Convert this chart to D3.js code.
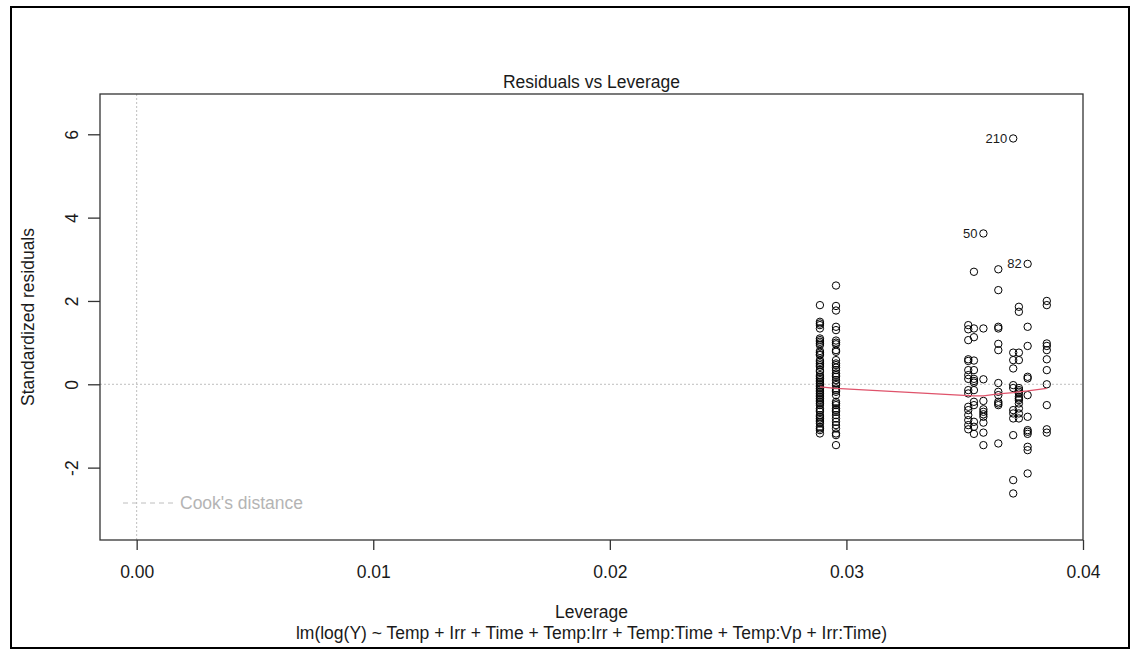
<!DOCTYPE html>
<html>
<head>
<meta charset="utf-8">
<script src="https://cdn.jsdelivr.net/npm/d3@7"></script>
<style>
  html, body { margin: 0; padding: 0; background: #fff; }
  svg { display: block; }
  text { font-family: "Liberation Sans", Arial, sans-serif; }
</style>
</head>
<body>
<svg id="chart" width="1132" height="650"></svg>
<script>
// Leverage value of each observation column
const leverageColumns = [0.02888, 0.02956, 0.03515, 0.03539, 0.03579, 0.03642, 0.03705, 0.03729, 0.03766, 0.03847];

// Standardized residuals per leverage column
const residualsL1 = [1.90, 1.50, 1.46, 1.42, 1.34, 1.10, 1.06, 1.02, 0.98, 0.94, 0.80, 0.76, 0.72, 0.70, 0.58, 0.54, 0.50, 0.46, 0.42, 0.34, 0.30, 0.22, 0.18, 0.14, 0.10, 0.06, 0.02, -0.02, -0.06, -0.10, -0.14, -0.18, -0.22, -0.26, -0.30, -0.34, -0.38, -0.42, -0.46, -0.50, -0.58, -0.62, -0.66, -0.74, -0.78, -0.82, -0.86, -0.90, -0.94, -1.02, -1.06, -1.10, -1.18];
const residualsL2 = [2.37, 1.88, 1.77, 1.38, 1.30, 1.05, 1.00, 0.96, 0.82, 0.78, 0.58, 0.50, 0.46, 0.40, 0.34, 0.26, 0.22, 0.18, 0.10, 0.02, -0.02, -0.10, -0.14, -0.18, -0.26, -0.42, -0.46, -0.50, -0.58, -0.62, -0.66, -0.74, -0.82, -0.90, -0.98, -1.06, -1.18, -1.22, -1.46];
const residualsR1 = [1.42, 1.32, 1.06, 0.60, 0.56, 0.34, 0.22, 0.13, -0.14, -0.22, -0.54, -0.62, -0.74, -0.86, -0.98, -1.08];
const residualsR2 = [2.70, 1.34, 1.13, 0.57, 0.34, 0.13, 0.08, 0.04, -0.14, -0.42, -0.50, -0.90, -1.02, -1.19];
const residualsR3 = [1.34, 0.12, -0.40, -0.60, -0.66, -0.72, -0.78, -0.92, -1.16, -1.46];
const residualsR4 = [2.76, 2.26, 1.38, 1.34, 0.97, 0.82, 0.03, -0.18, -0.26, -0.42, -0.46, -0.50, -1.42];
const residualsR5 = [0.76, 0.58, 0.38, -0.02, -0.09, -0.62, -0.70, -0.82, -1.22, -2.30, -2.62];
const residualsR6 = [1.86, 1.74, 0.76, 0.58, -0.09, -0.14, -0.18, -0.22, -0.30, -0.34, -0.38, -0.46, -0.58, -0.70, -0.82];
const residualsR7 = [1.38, 0.92, 0.18, 0.14, -0.26, -0.78, -1.10, -1.14, -1.19, -1.50, -1.58, -2.14];
const residualsR8 = [2.00, 1.90, 0.98, 0.92, 0.82, 0.60, 0.34, 0.00, -0.50, -1.08, -1.16];

// Observations flagged with their row number
const labelledIds = ["210", "50", "82"];
const labelledLeverage = [0.03705, 0.03579, 0.03766];
const labelledResiduals = [5.90, 3.62, 2.89];

// Smoothed trend evaluated at each leverage column
const smoothFit = [-0.06, -0.10, -0.27, -0.28, -0.28, -0.23, -0.20, -0.18, -0.16, -0.10];

// Axes
const xTicks = [0, 0.01, 0.02, 0.03, 0.04];
const xTickLabels = ["0.00", "0.01", "0.02", "0.03", "0.04"];
const yTicks = [-2, 0, 2, 4, 6];
const yTickLabels = ["-2", "0", "2", "4", "6"];
const xDomain = [-0.00155, 0.04];
const yDomain = [-3.737, 6.967];

const titleText = "Residuals vs Leverage";
const xLabelText = "Leverage";
const yLabelText = "Standardized residuals";
const subCaption = "lm(log(Y) ~ Temp + Irr + Time + Temp:Irr + Temp:Time + Temp:Vp + Irr:Time)";
const legendText = "Cook's distance";

const residualColumns = [residualsL1, residualsL2, residualsR1, residualsR2, residualsR3,
                         residualsR4, residualsR5, residualsR6, residualsR7, residualsR8];
const points = [];
residualColumns.forEach((col, i) => col.forEach(r => points.push({ lev: leverageColumns[i], r })));
labelledIds.forEach((id, i) => points.push({ lev: labelledLeverage[i], r: labelledResiduals[i], id }));

const svg = d3.select("#chart");
const plot = { left: 100, right: 1083, top: 94, bottom: 540 };
const fontSize = 17.5;
const textColor = "#1a1a1a";
const refGray = "#bebebe";

svg.append("rect").attr("width", 1132).attr("height", 650).attr("fill", "#fff");

// Outer frame
svg.append("rect")
  .attr("x", 11).attr("y", 7).attr("width", 1118).attr("height", 641)
  .attr("fill", "none").attr("stroke", "#000").attr("stroke-width", 2);

const x = d3.scaleLinear().domain(xDomain).range([plot.left, plot.right]);
const y = d3.scaleLinear().domain(yDomain).range([plot.bottom, plot.top]);

// Reference lines at zero
svg.append("line")
  .attr("x1", x(0)).attr("x2", x(0)).attr("y1", plot.top).attr("y2", plot.bottom)
  .attr("stroke", refGray).attr("stroke-width", 1).attr("stroke-dasharray", "2,2");
svg.append("line")
  .attr("x1", plot.left).attr("x2", plot.right).attr("y1", y(0)).attr("y2", y(0))
  .attr("stroke", refGray).attr("stroke-width", 1).attr("stroke-dasharray", "2,2");

// Points
svg.append("g").selectAll("circle").data(points).join("circle")
  .attr("cx", d => x(d.lev)).attr("cy", d => y(d.r)).attr("r", 3.7)
  .attr("fill", "none").attr("stroke", "#000").attr("stroke-width", 1);

// Smoothed line
const line = d3.line().x((d, i) => x(leverageColumns[i])).y(d => y(d));
svg.append("path").datum(smoothFit).attr("d", line)
  .attr("fill", "none").attr("stroke", "#DF536B").attr("stroke-width", 1.2);

// Point labels
svg.append("g").selectAll("text").data(points.filter(p => p.id)).join("text")
  .attr("x", d => x(d.lev) - 6).attr("y", d => y(d.r)).attr("dy", "0.35em")
  .attr("text-anchor", "end").attr("font-size", 13).attr("fill", textColor)
  .text(d => d.id);

// Plot box
svg.append("rect")
  .attr("x", plot.left).attr("y", plot.top)
  .attr("width", plot.right - plot.left).attr("height", plot.bottom - plot.top)
  .attr("fill", "none").attr("stroke", "#333").attr("stroke-width", 1.3);

// X axis
const xAxis = d3.axisBottom(x).tickValues(xTicks).tickSize(10).tickPadding(0)
  .tickFormat((d, i) => xTickLabels[i]);
const gx = svg.append("g").attr("transform", `translate(0,${plot.bottom})`).call(xAxis);
gx.select(".domain").remove();
gx.selectAll(".tick line").attr("stroke", "#333").attr("stroke-width", 1.3);
gx.selectAll(".tick text").attr("y", 38).attr("dy", null)
  .attr("font-size", fontSize).attr("font-family", "Liberation Sans, Arial, sans-serif")
  .attr("fill", textColor);

// Y axis with rotated labels
const yAxis = d3.axisLeft(y).tickValues(yTicks).tickSize(12).tickPadding(0)
  .tickFormat((d, i) => yTickLabels[i]);
const gy = svg.append("g").attr("transform", `translate(${plot.left},0)`).call(yAxis);
gy.select(".domain").remove();
gy.selectAll(".tick line").attr("stroke", "#333").attr("stroke-width", 1.3);
gy.selectAll(".tick text")
  .attr("x", null).attr("dy", null)
  .attr("transform", "translate(-22,0) rotate(-90)")
  .attr("text-anchor", "middle")
  .attr("font-size", fontSize).attr("font-family", "Liberation Sans, Arial, sans-serif")
  .attr("fill", textColor);

const cx = (plot.left + plot.right) / 2;
const cy = (plot.top + plot.bottom) / 2;

// Title and axis titles
svg.append("text").attr("x", cx).attr("y", 88).attr("text-anchor", "middle")
  .attr("font-size", fontSize).attr("fill", textColor).text(titleText);
svg.append("text").attr("x", cx).attr("y", 618).attr("text-anchor", "middle")
  .attr("font-size", fontSize).attr("fill", textColor).text(xLabelText);
svg.append("text").attr("x", cx).attr("y", 639).attr("text-anchor", "middle")
  .attr("font-size", fontSize).attr("fill", textColor).text(subCaption);
svg.append("text").attr("transform", `translate(34,${cy}) rotate(-90)`).attr("text-anchor", "middle")
  .attr("font-size", fontSize).attr("fill", textColor).text(yLabelText);

// Cook's distance legend
svg.append("line").attr("x1", 123).attr("x2", 173).attr("y1", 503).attr("y2", 503)
  .attr("stroke", refGray).attr("stroke-width", 1).attr("stroke-dasharray", "5,4");
svg.append("text").attr("x", 180).attr("y", 509).attr("font-size", fontSize)
  .attr("fill", "#b4b4b4").text(legendText);
</script>
</body>
</html>
